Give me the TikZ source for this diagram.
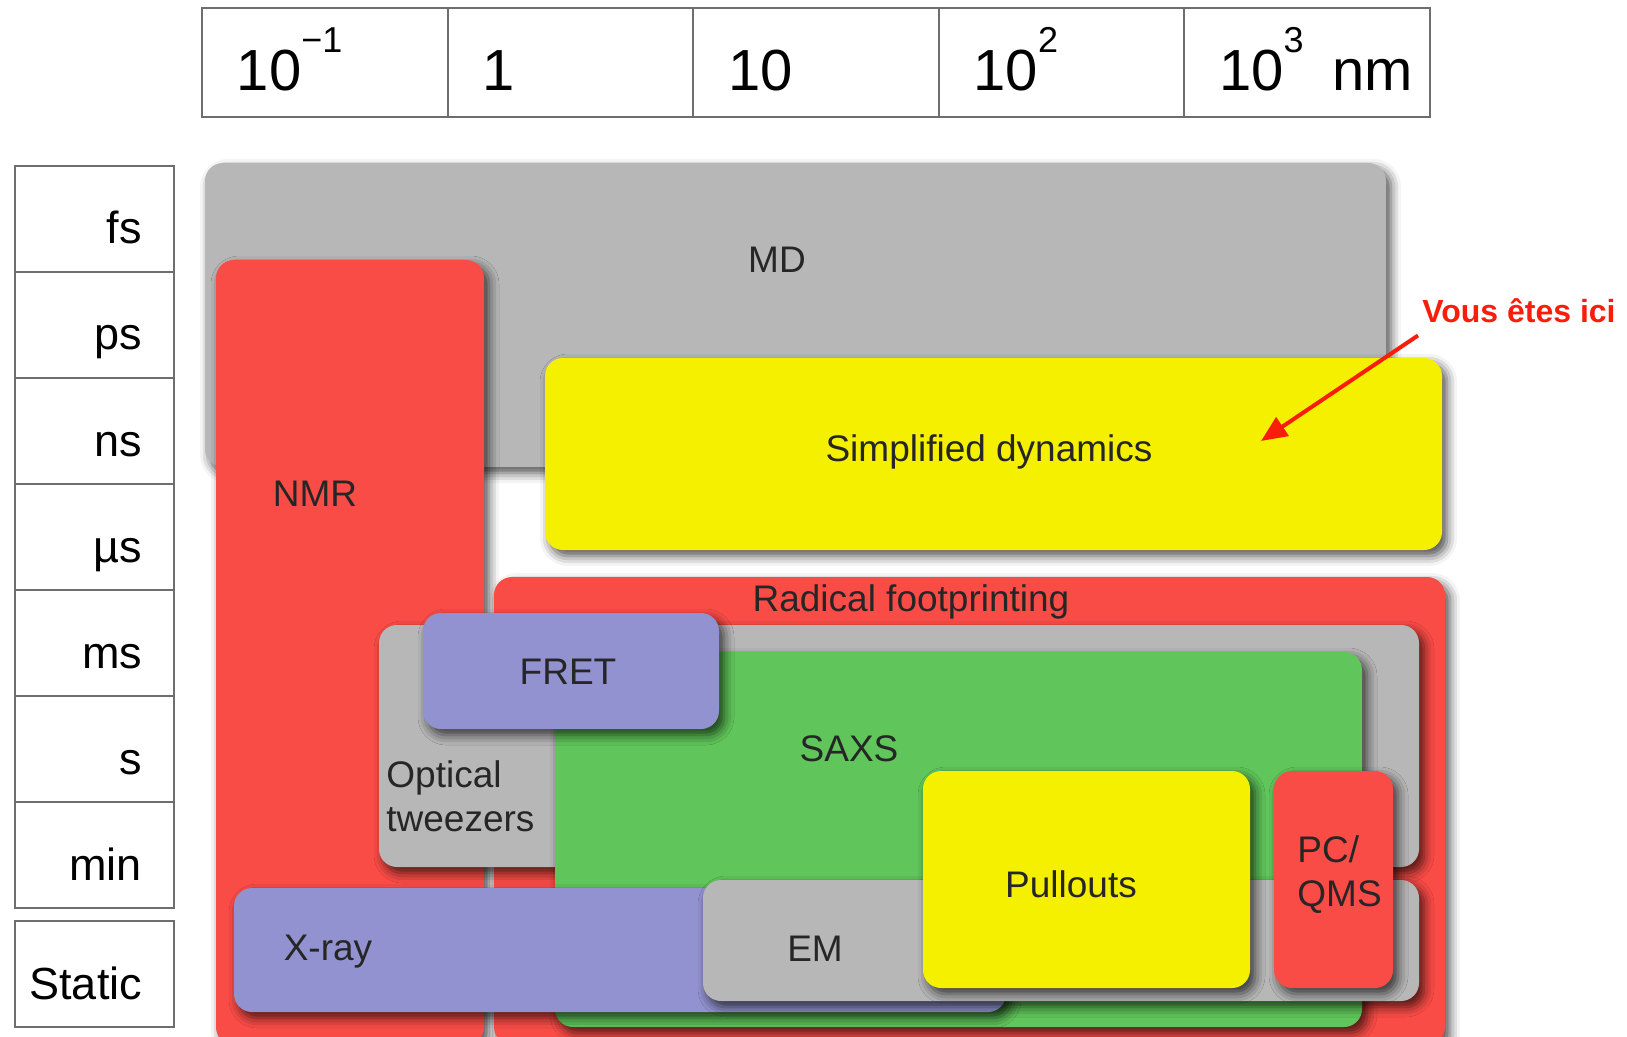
\documentclass[tikz,border=0pt]{standalone}
\usepackage{fontspec}
\setmainfont{Liberation Sans}
\usetikzlibrary{positioning,arrows.meta,fit,calc,shadows.blur}
\definecolor{methgray}{RGB}{183,183,183}
\definecolor{methred}{RGB}{250,76,71}
\definecolor{methyellow}{RGB}{245,240,0}
\definecolor{methgreen}{RGB}{96,197,90}
\definecolor{methblue}{RGB}{146,146,208}
\definecolor{gridc}{RGB}{110,110,110}
\definecolor{herec}{RGB}{250,30,10}
\newcommand{\pw}[1]{\raisebox{0.65em}{\fontsize{18}{20}\selectfont #1}}
\tikzset{
  method/.style    = {rounded corners=9pt, inner sep=0pt, draw=none,
                      blur shadow={shadow xshift=2.5pt, shadow yshift=-3pt,
                                   shadow blur radius=5pt, shadow opacity=70}},
  lengthcell/.style = {draw=gridc, line width=1pt, minimum width=122.8pt, minimum height=54.5pt,
                      text width=88pt, align=left, outer sep=0pt, text height=28pt, text depth=0pt,
                      font=\fontsize{29}{32}\selectfont},
  timecell/.style  = {draw=gridc, line width=1pt, minimum width=79.5pt, minimum height=53pt,
                      text width=47.5pt, align=right, inner xsep=16pt, outer sep=0pt,
                      text height=25pt, text depth=0pt, font=\fontsize{22.5}{26}\selectfont},
  lbl/.style       = {font=\fontsize{18.5}{22}\selectfont, text=black!85, inner sep=0pt},
  pointer/.style   = {-{Triangle[length=13pt, width=11pt]}, line width=2pt, draw=herec},
}

\begin{document}
\begin{tikzpicture}[x=0.5pt, y=-0.5pt]
\useasboundingbox (0,0) rectangle (1627,1037);
\clip (0,0) rectangle (1627,1037);

% length scale
\node[lengthcell] (tenm1) at (324.8,62.5) {10\pw{−1}};
\node[lengthcell, right=0pt of tenm1] (one) {1};
\node[lengthcell, right=0pt of one] (ten) {10};
\node[lengthcell, right=0pt of ten] (tentwo) {10\pw{2}};
\node[lengthcell, right=0pt of tentwo] (tenthree) {\mbox{10\pw{3}\, nm}};

% time scale
\node[timecell] (fs) at (94.5,219) {fs};
\node[timecell, below=0pt of fs] (ps) {ps};
\node[timecell, below=0pt of ps] (ns) {ns};
\node[timecell, below=0pt of ns] (mus) {µs};
\node[timecell, below=0pt of mus] (ms) {ms};
\node[timecell, below=0pt of ms] (sec) {s};
\node[timecell, below=0pt of sec] (mins) {min};
\node[timecell, below=6.5pt of mins] (static) {\makebox[47.5pt][r]{Static}};

% methods
\node[method, fill=methgray, fit={(205,163) (1386,467)}] (md) {};
\node[lbl] (mdlbl) at (777,260) {MD};
\node[method, fill=methred, fit={(216,260) (484,1045)}] (nmr) {};
\node[lbl] (nmrlbl) at (315,494) {NMR};
\node[method, fill=methyellow, fit={(545,358) (1442,550)}] (simp) {};
\node[lbl] (simplbl) at (989,452) {Simplified dynamics};
\node[method, fill=methred, fit={(494,577) (1445,1045)}] (radical) {};
\node[lbl] (radicallbl) at (911,602) {Radical footprinting};
\node[method, fill=methgray, fit={(379,625) (1419,867)}] (optical) {};
\node[lbl, align=left, anchor=west] (opticallbl) at (386,796) {Optical\\tweezers};
\node[method, fill=methgreen, fit={(555,652) (1362,1027)}] (saxs) {};
\node[lbl] (saxslbl) at (849,749) {SAXS};
\node[method, fill=methblue, fit={(423,613) (719,729)}] (fret) {};
\node[lbl] (fretlbl) at (568,672) {FRET};
\node[method, fill=methblue, fit={(234,888) (1006,1012)}] (xray) {};
\node[lbl] (xraylbl) at (328,952) {X-ray};
\node[method, fill=methgray, fit={(703,880) (1419,1001)}] (em) {};
\node[lbl] (emlbl) at (815,949) {EM};
\node[method, fill=methyellow, fit={(923,771) (1250,988)}] (pullouts) {};
\node[lbl] (pulloutslbl) at (1071,884) {Pullouts};
\node[method, fill=methred, fit={(1274,771) (1393,988)}] (pcqms) {};
\node[lbl, align=left, anchor=west] (pcqmslbl) at (1297,875) {PC/\\QMS};

% you are here
\node[font=\bfseries\fontsize{16}{19}\selectfont, text=herec, inner sep=0pt] (vous) at (1519,311) {Vous êtes ici};
\coordinate (here) at (1261,441);
\draw[pointer] ($(vous.south west)+(-4,12)$) -- (here);

\end{tikzpicture}
\end{document}
